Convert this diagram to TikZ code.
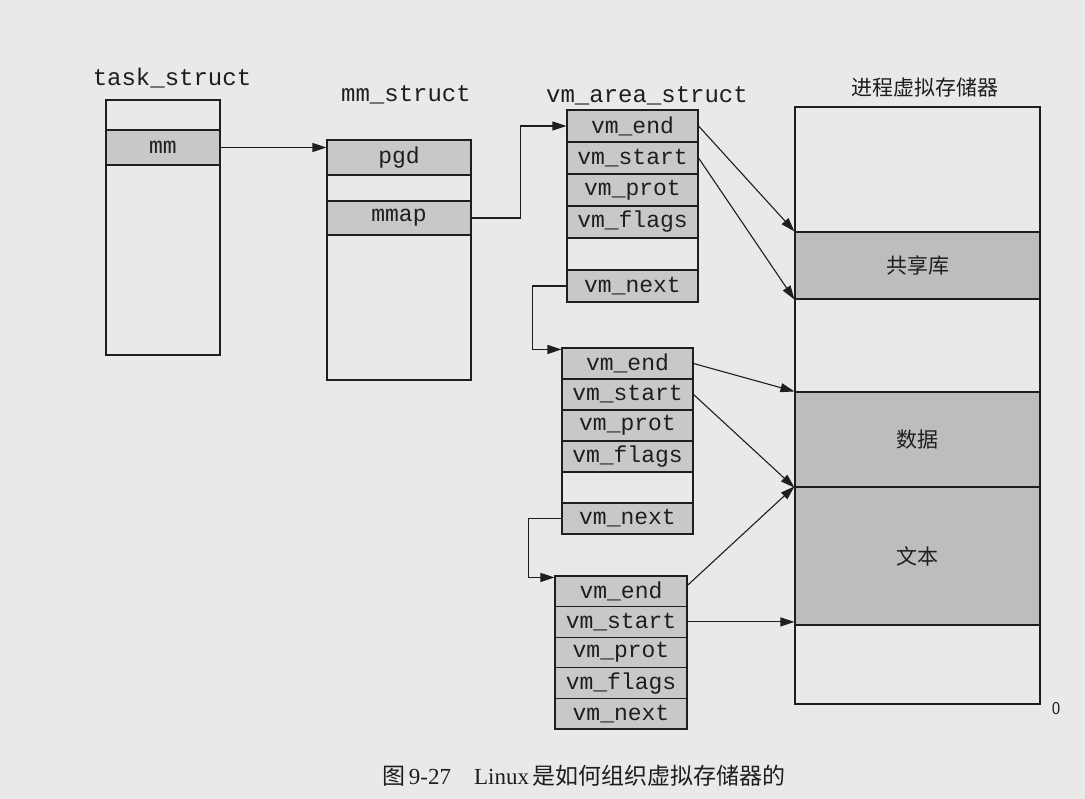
\documentclass[tikz,border=0pt]{standalone}
\usepackage{fontspec}
\setmainfont{Liberation Serif}
\setmonofont{Liberation Mono}
\newfontfamily\cjk{Noto Sans CJK SC}
\usetikzlibrary{arrows.meta}

\definecolor{paper}{HTML}{E9E9E9}
\definecolor{field}{HTML}{C8C8C8}
\definecolor{region}{HTML}{BDBDBD}
\definecolor{ink}{HTML}{1E1E1E}

\tikzset{
  boxline/.style={draw=ink, line width=1.1pt},
  frame/.style={boxline, fill=paper, inner sep=0pt},
  fieldrow/.style={boxline, fill=field, inner sep=0pt, text=ink,
    font=\ttfamily\fontsize{23}{26}\selectfont},
  blankrow/.style={fieldrow, fill=paper},
  band/.style={boxline, fill=region, inner sep=0pt, text=ink,
    font=\cjk\fontsize{21}{24}\selectfont},
  title/.style={text=ink, inner sep=0pt, font=\ttfamily\fontsize{24}{28}\selectfont},
  cntitle/.style={text=ink, inner sep=0pt, font=\cjk\fontsize{21}{24}\selectfont},
  link/.style={draw=ink, line width=1.1pt, -{Triangle[length=14pt,width=9pt]}},
}

\begin{document}
\begin{tikzpicture}[x=1pt, y=-1pt]
  \fill[paper] (0,0) rectangle (1085,799);
  \useasboundingbox (0,0) rectangle (1085,799);

  % task_struct
  \node[title] (tstitle) at (172,78) {task\_struct};
  \node[frame, minimum width=114pt, minimum height=255pt] (ts) at (163,227.5) {};
  \node[fieldrow, minimum width=114pt, minimum height=35pt] (tmm) at (163,147.5) {mm};

  % mm_struct
  \node[title] (mmtitle) at (406,95) {mm\_struct};
  \node[frame, minimum width=144pt, minimum height=240pt] (mms) at (399,260) {};
  \node[fieldrow, minimum width=144pt, minimum height=35pt] (pgd) at (399,157.5) {pgd};
  \node[fieldrow, minimum width=144pt, minimum height=34pt] (mmap) at (399,218) {mmap};

  % vm_area_struct, first area
  \node[title] (vmtitle) at (647,96) {vm\_area\_struct};
  \begin{scope}[every node/.append style={minimum width=131pt, minimum height=32pt}]
    \node[fieldrow] (aend)   at (632.5,126) {vm\_end};
    \node[fieldrow] (astart) at (632.5,158) {vm\_start};
    \node[fieldrow] (aprot)  at (632.5,190) {vm\_prot};
    \node[fieldrow] (aflags) at (632.5,222) {vm\_flags};
    \node[blankrow] (ablank) at (632.5,254) {};
    \node[fieldrow] (anext)  at (632.5,286) {vm\_next};
  \end{scope}

  % second area
  \begin{scope}[every node/.append style={minimum width=131pt, minimum height=31pt}]
    \node[fieldrow] (bend)   at (627.5,363.5) {vm\_end};
    \node[fieldrow] (bstart) at (627.5,394.5) {vm\_start};
    \node[fieldrow] (bprot)  at (627.5,425.5) {vm\_prot};
    \node[fieldrow] (bflags) at (627.5,456.5) {vm\_flags};
    \node[blankrow] (bblank) at (627.5,487.5) {};
    \node[fieldrow] (bnext)  at (627.5,518.5) {vm\_next};
  \end{scope}

  % third area
  \begin{scope}[every node/.append style={minimum width=132pt, minimum height=30.6pt}]
    \node[fieldrow] (cend)   at (621,591.3) {vm\_end};
    \node[fieldrow] (cstart) at (621,621.9) {vm\_start};
    \node[fieldrow] (cprot)  at (621,652.5) {vm\_prot};
    \node[fieldrow] (cflags) at (621,683.1) {vm\_flags};
    \node[fieldrow] (cnext)  at (621,713.7) {vm\_next};
  \end{scope}

  % process virtual memory
  \node[cntitle] (vmemtitle) at (925,88) {进程虚拟存储器};
  \node[frame, minimum width=245pt, minimum height=597pt] (vmem) at (917.5,405.5) {};
  \node[band, minimum width=245pt, minimum height=67pt] (shlib) at (917.5,265.5) {共享库};
  \node[band, minimum width=245pt, minimum height=95pt] (data) at (917.5,439.5) {数据};
  \node[band, minimum width=245pt, minimum height=138pt] (text) at (917.5,556) {文本};
  \node[text=ink, inner sep=0pt, font=\sffamily\fontsize{18}{20}\selectfont] (zero) at (1056,709) {0};

  % pointers
  \draw[link] (tmm.east) -- (tmm.east -| pgd.west);
  \draw[link] (mmap.east) -- ++(49,0) |- (aend.west);
  \draw[link] (anext.west) -- ++(-34,0) |- ([yshift=-2pt]bend.north west);
  \draw[link] (bnext.west) -- ++(-33,0) |- ([yshift=-2pt]cend.north west);

  % area bounds into the address space
  \draw[link] (aend.east) -- (shlib.north west);
  \draw[link] (astart.east) -- (shlib.south west);
  \draw[link] (bend.east) -- (data.north west);
  \draw[link] (bstart.east) -- (data.south west);
  \draw[link] ([yshift=6pt]cend.east) -- (text.north west);
  \draw[link] (cstart.east) -- (cstart.east -| text.south west);

  % caption
  \node[text=ink, inner sep=0pt, font=\fontsize{23}{26}\selectfont] (caption) at (584,776)
    {{\cjk 图}\,9-27\hspace{1em}Linux\,{\cjk 是如何组织虚拟存储器的}};
\end{tikzpicture}
\end{document}
